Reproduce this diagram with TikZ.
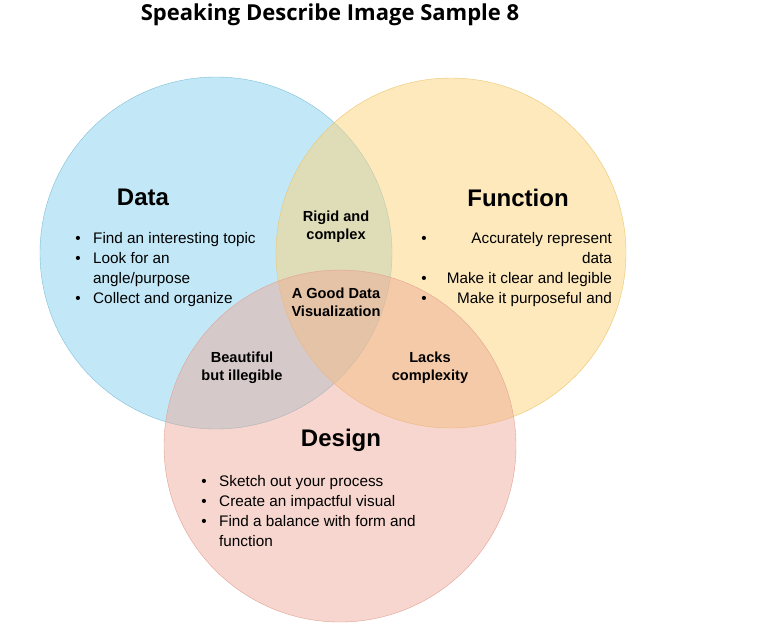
\documentclass[tikz,border=0pt]{standalone}
\usepackage{fontspec}
\setmainfont{Liberation Sans}
\newfontfamily\titlefont{Open Sans}
\begin{document}
\begin{tikzpicture}[x=1pt,y=-1pt,
  txt/.style={font=\fontsize{15.3}{18}\selectfont,inner sep=0pt,anchor=base west},
  txtr/.style={font=\fontsize{15.3}{18}\selectfont,inner sep=0pt,anchor=base east},
  blt/.style={font=\fontsize{15.3}{18}\selectfont,inner sep=0pt,anchor=base},
  hd/.style={font=\fontsize{24}{28}\bfseries\selectfont,inner sep=0pt},
  lbl/.style={font=\fontsize{14.6}{18}\bfseries\selectfont,align=center,inner sep=0pt}]
\useasboundingbox (0,0) rectangle (765,633);
\fill[white] (0,0) rectangle (765,633);
\definecolor{cb}{HTML}{87D3F0}\definecolor{cbd}{HTML}{7FBFD8}
\definecolor{cy}{HTML}{FDD47A}\definecolor{cyd}{HTML}{EEC56E}
\definecolor{cr}{HTML}{EDA593}\definecolor{crd}{HTML}{E3A392}
\node[font=\titlefont\fontsize{22}{26}\bfseries\selectfont] (title) at (330,15) {Speaking Describe Image Sample 8};
\path[fill=cb,fill opacity=0.5,draw=cbd] (216,253) circle (176);
\path[fill=cy,fill opacity=0.5,draw=cyd] (451,253) circle (175);
\path[fill=cr,fill opacity=0.45,draw=crd] (340,446) circle (176);
\node[hd] (dh) at (143,197) {Data};
\node[hd] (fh) at (518,198) {Function};
\node[hd] (gh) at (341,440) {Design};
\foreach \t [count=\i] in {Find an interesting topic,Look for an,angle/purpose,Collect and organize}{
  \node[txt] (d\i) at (93,{238+20*(\i-1)+5}) {\t};}
\node[blt] (db1) at (78,243) {•};\node[blt] (db2) at (78,263) {•};\node[blt] (db3) at (78,303) {•};
\node[txtr] (f1) at (612,243) {Accurately represent};
\node[txtr] (f2) at (612,263) {data};
\node[txtr] (f3) at (612,283) {Make it clear and legible};
\node[txtr] (f4) at (612,303) {Make it purposeful and};
\node[blt] (fb1) at (424,243) {•};\node[blt] (fb2) at (424,283) {•};\node[blt] (fb3) at (424,303) {•};
\foreach \t [count=\i] in {Sketch out your process,Create an impactful visual,Find a balance with form and,function}{
  \node[txt] (g\i) at (219,{481+20*(\i-1)+5}) {\t};}
\node[blt] (gb1) at (204,486) {•};\node[blt] (gb2) at (204,506) {•};\node[blt] (gb3) at (204,526) {•};
\node[lbl] (l1) at (336,227) {Rigid and\\complex};
\node[lbl] (l2) at (336,302) {A Good Data\\Visualization};
\node[lbl] (l3) at (242,368) {Beautiful\\but illegible};
\node[lbl] (l4) at (430,368) {Lacks\\complexity};
\end{tikzpicture}
\end{document}
